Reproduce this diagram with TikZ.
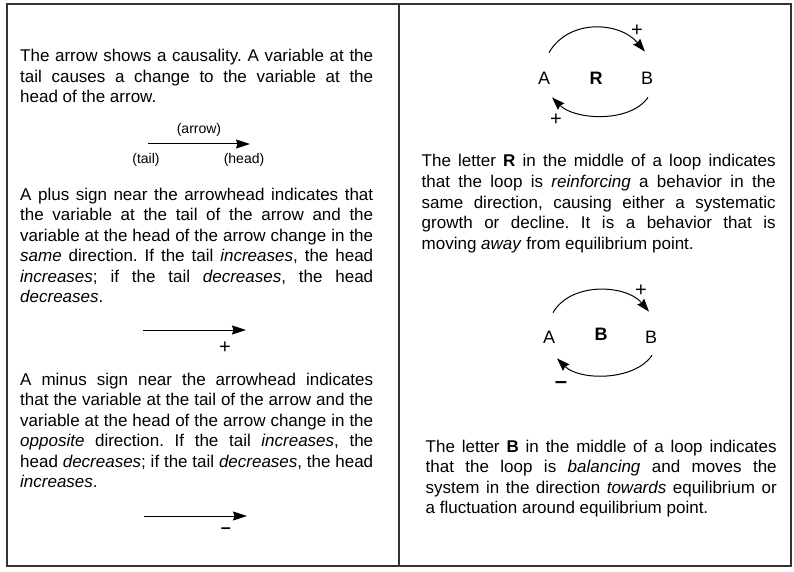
\documentclass[tikz,border=0pt]{standalone}
\usepackage{fontspec}
\setmainfont{Liberation Sans}
\usetikzlibrary{arrows.meta,positioning}
\frenchspacing

\begin{document}
\begin{tikzpicture}[
    x=1pt, y=-1pt,
    para/.style={anchor=base west, inner sep=0pt, align=justify, text width=#1, font=\fontsize{17}{20.5}\selectfont},
    lbl/.style={inner sep=0pt, font=\fontsize{14}{16}\selectfont},
    loopvar/.style={inner sep=0pt, font=\fontsize{18}{20}\selectfont},
    sign/.style={inner sep=0pt, font=\fontsize{20}{22}\selectfont},
    frame/.style={line width=1.4pt, black!80},
    causal/.style={-{Stealth[length=14pt,width=9pt,inset=1.5pt]}, line width=1pt},
    loopedge/.style={-{Stealth[length=13pt,width=9pt,inset=1.5pt]}, line width=1pt}
]
\useasboundingbox (0,0) rectangle (794,572);
\draw[frame] (7,4) rectangle (791,566);
\draw[frame] (399,4) -- (399,566);

% left column
\node[para=353pt] (p1) at (20,62) {The arrow shows a causality. A variable at the\linebreak
tail causes a change to the variable at the\linebreak
head of the arrow.};

\coordinate (t1) at (148,144);
\coordinate (h1) at (250,144);
\draw[causal] (t1) -- (h1);
\node[lbl] (arrowlbl) at (199,130) {(arrow)};
\node[lbl] (taillbl) at (146,160) {(tail)};
\node[lbl] (headlbl) at (244,160) {(head)};

\node[para=353pt] (p2) at (20,200) {A plus sign near the arrowhead indicates that\linebreak
the variable at the tail of the arrow and the\linebreak
variable at the head of the arrow change in the\linebreak
\textit{same} direction. If the tail \textit{increases}, the head\linebreak
\textit{increases}; if the tail \textit{decreases}, the head\linebreak
\textit{decreases}.};

\coordinate (t2) at (143,330);
\coordinate (h2) at (246,330);
\draw[causal] (t2) -- (h2);
\node[sign] (plus2) at (225,348) {+};

\node[para=353pt] (p3) at (20,385) {A minus sign near the arrowhead indicates\linebreak
that the variable at the tail of the arrow and the\linebreak
variable at the head of the arrow change in the\linebreak
\textit{opposite} direction. If the tail \textit{increases}, the\linebreak
head \textit{decreases}; if the tail \textit{decreases}, the head\linebreak
\textit{increases}.};

\coordinate (t3) at (144,516);
\coordinate (h3) at (247,516);
\draw[causal] (t3) -- (h3);
\node[sign, font=\fontsize{18}{20}\selectfont] (minus3) at (226,531) {\bfseries --};

% right column: reinforcing loop
\node[loopvar] (A1) at (544,78.5) {A};
\node[loopvar] (R) at (596,78.5) {\bfseries R};
\node[loopvar] (B1) at (647,78.5) {B};
\draw[loopedge] ([xshift=5pt,yshift=19.5pt]A1.north) to[out=60,in=130,looseness=1.05] ([xshift=-2pt,yshift=20.5pt]B1.north);
\draw[loopedge] ([xshift=1pt,yshift=-12.5pt]B1.south) to[out=-125,in=-45,looseness=0.85] ([xshift=8pt,yshift=-12.5pt]A1.south);
\node[sign] (plusR1) at (637,31) {+};
\node[sign] (plusR2) at (556,120) {+};

\node[para=354pt] (p4) at (421.5,167) {The letter \textbf{R} in the middle of a loop indicates\linebreak
that the loop is \textit{reinforcing} a behavior in the\linebreak
same direction, causing either a systematic\linebreak
growth or decline. It is a behavior that is\linebreak
moving \textit{away} from equilibrium point.};

% right column: balancing loop
\node[loopvar] (A2) at (549,337) {A};
\node[loopvar] (Bal) at (601,334) {\bfseries B};
\node[loopvar] (B2) at (651,337) {B};
\draw[loopedge] ([xshift=4pt,yshift=18pt]A2.north) to[out=60,in=130,looseness=0.95] ([xshift=-2pt,yshift=19pt]B2.north);
\draw[loopedge] ([xshift=1pt,yshift=-12pt]B2.south) to[out=-125,in=-45,looseness=0.85] ([xshift=8pt,yshift=-15pt]A2.south);
\node[sign] (plusB1) at (641,291) {+};
\node[sign, font=\fontsize{22}{24}\selectfont] (minusB2) at (561,385) {\bfseries --};

\node[para=351pt] (p5) at (425.5,452) {The letter \textbf{B} in the middle of a loop indicates\linebreak
that the loop is \textit{balancing} and moves the\linebreak
system in the direction \textit{towards} equilibrium or\linebreak
a fluctuation around equilibrium point.};
\end{tikzpicture}
\end{document}
